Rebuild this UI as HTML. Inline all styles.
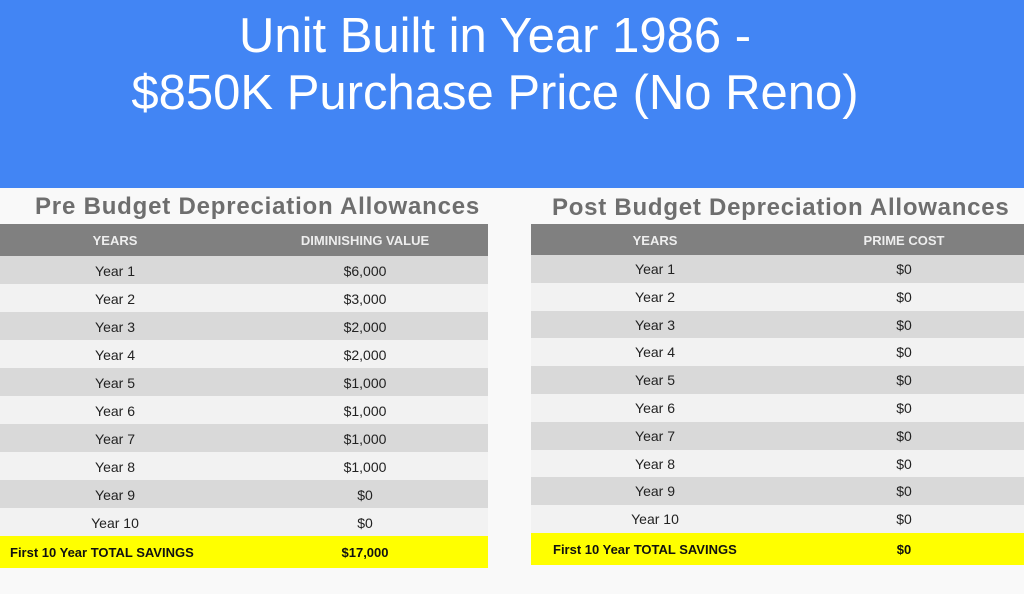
<!DOCTYPE html>
<html><head><style>
body{margin:0;width:1024px;height:594px;background:#f9f9f9;font-family:"Liberation Sans",sans-serif;position:relative;overflow:hidden}
.hdr{position:absolute;left:0;top:0;width:1024px;height:188px;background:#4285f4;color:#fff;text-align:center;font-size:49px;line-height:57px}
.hdr div{position:absolute;width:990px;left:0}
.ttl{position:absolute;font-weight:bold;color:#6e6e6e;font-size:24px;letter-spacing:0.8px;white-space:nowrap}
.tb{position:absolute}
.r{position:absolute;left:0;right:0;font-size:14px;color:#222}
.r span{position:absolute;transform:translateX(-50%);white-space:nowrap}
.h{background:#808080;color:#eee;font-weight:bold;font-size:13px}
.a{background:#d9d9d9}.b{background:#f2f2f2}
.y{background:#ffff00;font-weight:bold;font-size:13px;color:#111}
</style></head><body>
<div class="hdr"><div style="top:8px">Unit Built in Year 1986 -</div><div style="top:65px">$850K Purchase Price (No Reno)</div></div>
<div class="ttl" style="left:35px;top:193px">Pre Budget Depreciation Allowances</div>
<div class="ttl" style="left:552px;top:194px;letter-spacing:0.75px">Post Budget Depreciation Allowances</div>
<div id="L" class="tb" style="left:0;top:224px;width:488px"></div>
<div id="R" class="tb" style="left:531px;top:224px;width:493px"></div>
<script>
function build(id,h,rh,c1,c2,col2,vals,tot,totx){
 var el=document.getElementById(id),s='',y=0;
 s+='<div class="r h" style="top:0;height:'+h+'px;line-height:'+(h+2)+'px"><span style="left:'+c1+'px">YEARS</span><span style="left:'+c2+'px">'+col2+'</span></div>';
 y=h;
 for(var i=0;i<10;i++){s+='<div class="r '+(i%2?'b':'a')+'" style="top:'+(y+i*rh)+'px;height:'+rh+'px;line-height:'+(rh+2)+'px"><span style="left:'+c1+'px">Year '+(i+1)+'</span><span style="left:'+c2+'px">'+vals[i]+'</span></div>';}
 y+=10*rh;
 s+='<div class="r y" style="top:'+y+'px;height:32px;line-height:34px"><span style="left:'+totx+'px;transform:none">First 10 Year TOTAL SAVINGS</span><span style="left:'+c2+'px">'+tot+'</span></div>';
 el.innerHTML=s;
}
build('L',32,28,115,365,'DIMINISHING VALUE',['$6,000','$3,000','$2,000','$2,000','$1,000','$1,000','$1,000','$1,000','$0','$0'],'$17,000',10);
build('R',31,27.8,124,373,'PRIME COST',['$0','$0','$0','$0','$0','$0','$0','$0','$0','$0'],'$0',22);
</script>
</body></html>
